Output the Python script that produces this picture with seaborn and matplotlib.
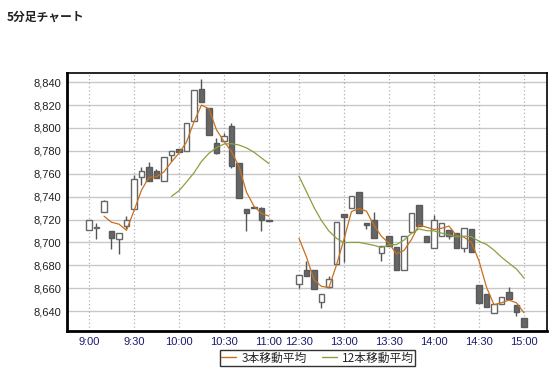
import matplotlib
matplotlib.use("Agg")
import matplotlib.pyplot as plt
import seaborn as sns
import pandas as pd
import numpy as np
from matplotlib.lines import Line2D

# ---- data ----
times = ["9:00", "9:05", "9:10", "9:15", "9:20", "9:25", "9:30", "9:35", "9:40", "9:45",
         "9:50", "9:55", "10:00", "10:05", "10:10", "10:15", "10:20", "10:25", "10:30", "10:35",
         "10:40", "10:45", "10:50", "10:55", "11:00",
         "12:30", "12:35", "12:40", "12:45", "12:50", "12:55", "13:00", "13:05", "13:10", "13:15",
         "13:20", "13:25", "13:30", "13:35", "13:40", "13:45", "13:50", "13:55", "14:00", "14:05",
         "14:10", "14:15", "14:20", "14:25", "14:30", "14:35", "14:40", "14:45", "14:50", "14:55",
         "15:00"]
opens = [8711, 8713, 8727, 8710, 8703, 8714, 8729, 8757, 8766, 8762,
         8754, 8776, 8782, 8780, 8806, 8834, 8817, 8787, 8789, 8802,
         8769, 8729, 8731, 8730, 8720,
         8664, 8676, 8676, 8648, 8661, 8681, 8725, 8730, 8744, 8717,
         8720, 8691, 8706, 8696, 8676, 8709, 8733, 8706, 8695, 8706,
         8711, 8708, 8695, 8712, 8663, 8655, 8638, 8646, 8657, 8645,
         8634]
highs = [8720, 8717, 8737, 8710, 8708, 8723, 8759, 8766, 8770, 8764,
         8775, 8780, 8782, 8804, 8833, 8843, 8817, 8791, 8796, 8804,
         8769, 8729, 8731, 8731, 8720,
         8672, 8684, 8676, 8655, 8671, 8718, 8725, 8741, 8744, 8717,
         8727, 8697, 8706, 8696, 8706, 8726, 8733, 8706, 8724, 8717,
         8711, 8708, 8713, 8712, 8663, 8655, 8646, 8652, 8661, 8645,
         8634]
lows = [8711, 8703, 8727, 8694, 8690, 8712, 8729, 8750, 8754, 8756,
        8754, 8771, 8779, 8780, 8806, 8823, 8794, 8777, 8789, 8765,
        8739, 8710, 8730, 8710, 8719,
        8660, 8671, 8659, 8643, 8660, 8681, 8683, 8730, 8726, 8712,
        8704, 8684, 8697, 8676, 8676, 8709, 8714, 8700, 8695, 8706,
        8703, 8695, 8692, 8692, 8647, 8644, 8638, 8646, 8651, 8636,
        8626]
closes = [8720, 8713, 8736, 8704, 8708, 8720, 8755, 8762, 8754, 8756,
          8775, 8780, 8779, 8804, 8833, 8823, 8794, 8778, 8793, 8767,
          8739, 8726, 8730, 8720, 8719,
          8672, 8671, 8659, 8655, 8668, 8718, 8722, 8741, 8726, 8715,
          8704, 8697, 8697, 8676, 8706, 8726, 8714, 8700, 8720, 8717,
          8706, 8695, 8713, 8692, 8647, 8644, 8646, 8652, 8651, 8639,
          8626]
tick_labels = ["9:00", "9:30", "10:00", "10:30", "11:00", "12:30",
               "13:00", "13:30", "14:00", "14:30", "15:00"]
y_ticks = list(range(8640, 8841, 20))
ma_labels = ["3本移動平均", "12本移動平均"]


def slot(t):
    h, m = map(int, t.split(":"))
    mins = h * 60 + m
    if mins <= 11 * 60:
        return (mins - 9 * 60) / 5
    return 28 + (mins - (12 * 60 + 30)) / 5


df = pd.DataFrame({"time": times, "open": opens, "high": highs,
                   "low": lows, "close": closes})
df["x"] = df["time"].map(slot)
df["session"] = np.where(df["x"] <= 24, "am", "pm")
df["ma3"] = df["close"].rolling(3).mean()
df["ma12"] = df["close"].rolling(12).mean()

# ---- style ----
sns.set_style("white")
plt.rcParams["font.family"] = ["Liberation Sans", "Noto Sans CJK JP", "DejaVu Sans"]

fig = plt.figure(figsize=(5.57, 3.70), dpi=100)
ax = fig.add_axes([67 / 557, 1 - 331 / 370, 480 / 557, 258 / 370])

ax.set_xlim(-2.93, 61.07)
ax.set_ylim(8622.7, 8848.0)

# grid
for v in y_ticks:
    ax.axhline(v, color="#c8c8c8", lw=1, zorder=0)
for lab in tick_labels:
    ax.axvline(slot(lab), color="#b0b0b0", lw=0.9, ls=(0, (1, 2)), zorder=0)

# candles
up = df["close"] >= df["open"]
ax.vlines(df["x"], df["low"], df["high"], color="#555555", lw=1, zorder=2)
body_bottom = np.minimum(df["open"], df["close"])
body_h = np.maximum(np.abs(df["close"] - df["open"]), 0.4)
ax.bar(df["x"][up], body_h[up], bottom=body_bottom[up], width=0.68,
       color="white", edgecolor="#666666", linewidth=1, zorder=3)
ax.bar(df["x"][~up], body_h[~up], bottom=body_bottom[~up], width=0.68,
       color="#666666", edgecolor="#5a5a5a", linewidth=1, zorder=3)

# moving averages
c3 = "#c8701e"
c12 = "#8aa040"
for col, color in (("ma3", c3), ("ma12", c12)):
    for ses, seg in df.groupby("session"):
        seg = seg.dropna(subset=[col])
        sns.lineplot(data=seg, x="x", y=col, color=color, lw=0.9, ax=ax,
                     zorder=4, legend=False)

ax.set_xlabel("")
ax.set_ylabel("")
ax.set_xticks([slot(t) for t in tick_labels])
ax.set_xticklabels(tick_labels, color="#1a1a6e", fontsize=8)
ax.set_yticks(y_ticks)
ax.set_yticklabels([f"{v:,}" for v in y_ticks], color="#222222", fontsize=8)
ax.tick_params(axis="both", length=0, pad=4)

for s in ax.spines.values():
    s.set_visible(True)
    s.set_color("black")
    s.set_linewidth(1.2)
ax.spines["left"].set_linewidth(2)
ax.spines["bottom"].set_linewidth(2)

handles = [Line2D([0], [0], color=c3, lw=1), Line2D([0], [0], color=c12, lw=1)]
leg = fig.legend(handles, ma_labels, loc="center", bbox_to_anchor=(317.5 / 557, 1 - 358 / 370),
                 ncol=2, frameon=True, fancybox=False, handlelength=1.3,
                 handletextpad=0.4, columnspacing=1.3, borderpad=0.12,
                 prop={"family": ["Noto Sans CJK JP", "DejaVu Sans"], "size": 8.5})
leg.get_frame().set_edgecolor("black")
leg.get_frame().set_linewidth(1)

fig.text(7 / 557, 1 - 17 / 370, "5分足チャート", fontsize=8.5, fontweight="bold",
         family=["Noto Sans CJK JP", "DejaVu Sans"], va="center", ha="left", color="#222222")

fig.savefig("out.png", dpi=100)
